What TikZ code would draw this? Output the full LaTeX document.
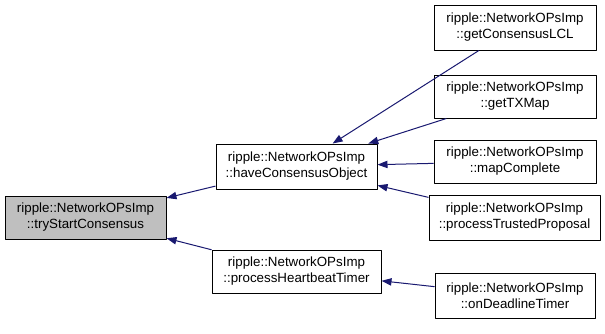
\documentclass[tikz,border=0pt]{standalone}
\usepackage{fontspec}
\setmainfont{Liberation Sans}
\usetikzlibrary{arrows.meta}
\definecolor{edgeblue}{HTML}{191970}
\definecolor{curgray}{HTML}{BFBFBF}
\begin{document}
\begin{tikzpicture}[x=0.75pt, y=-0.75pt, font=\fontsize{10}{12}\selectfont, line join=round,
	fn/.style={draw=black, line width=0.75pt, fill=white, align=center, inner sep=0pt, minimum height=#1*0.75pt},
	fn/.default=44,
	call/.style={draw=edgeblue, line width=0.75pt, -{Triangle[length=7.5pt, width=5.5pt]}}]
	\useasboundingbox (0,0) rectangle (605,333);
	% the function itself and its two callers
	\node[fn=43, fill=curgray, minimum width=161*0.75pt] (start) at (85.5,217.5) {ripple::NetworkOPsImp\\::tryStartConsensus};
	\node[fn=45, minimum width=161*0.75pt] (have) at (296.5,166.5) {ripple::NetworkOPsImp\\::haveConsensusObject};
	\node[fn=43, minimum width=169*0.75pt] (heart) at (296.5,271.5) {ripple::NetworkOPsImp\\::processHeartbeatTimer};
	% callers one level further out
	\node[fn=45, minimum width=162*0.75pt] (lcl) at (515,27.5) {ripple::NetworkOPsImp\\::getConsensusLCL};
	\node[fn=43, minimum width=162*0.75pt] (txmap) at (515,96.5) {ripple::NetworkOPsImp\\::getTXMap};
	\node[fn=43, minimum width=162*0.75pt] (mapc) at (515,161.5) {ripple::NetworkOPsImp\\::mapComplete};
	\node[fn=45, minimum width=171*0.75pt] (trusted) at (514.5,217.5) {ripple::NetworkOPsImp\\::processTrustedProposal};
	\node[fn=45, minimum width=160*0.75pt] (deadline) at (515,295.5) {ripple::NetworkOPsImp\\::onDeadlineTimer};
	% calls
	\draw[call] (have) -- (start);
	\draw[call] (heart) -- (start);
	\foreach \c in {lcl,txmap,mapc,trusted}
		\draw[call] (\c) -- (have);
	\draw[call] (deadline) -- (heart);
\end{tikzpicture}
\end{document}
